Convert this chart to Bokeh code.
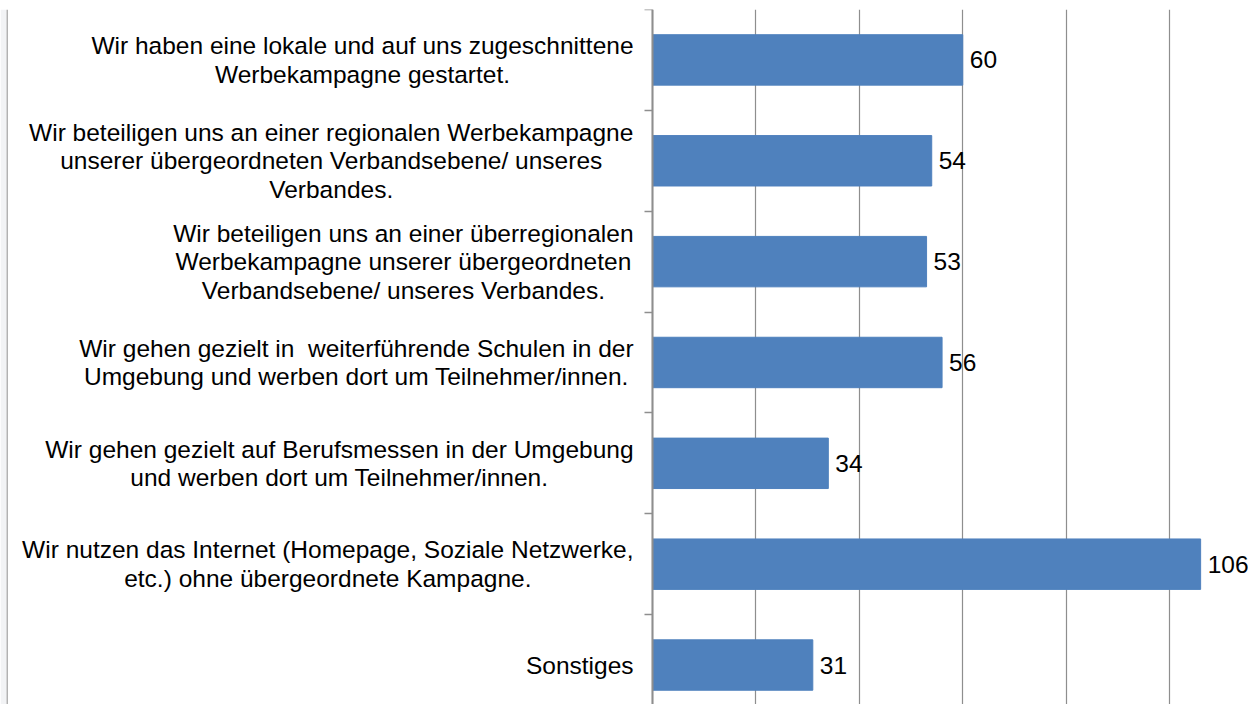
from bokeh.plotting import figure
from bokeh.models import Range1d, FixedTicker, Grid, ColumnDataSource, BoxAnnotation
from bokeh.embed import file_html
from bokeh.resources import INLINE
from bokeh.core.properties import value

categories = [
    "Wir haben eine lokale und auf uns zugeschnittene\nWerbekampagne gestartet.",
    "Wir beteiligen uns an einer regionalen Werbekampagne\nunserer übergeordneten Verbandsebene/ unseres\nVerbandes.",
    "Wir beteiligen uns an einer überregionalen\nWerbekampagne unserer übergeordneten\nVerbandsebene/ unseres Verbandes.",
    "Wir gehen gezielt in \u00a0weiterführende Schulen in der\nUmgebung und werben dort um Teilnehmer/innen.",
    "Wir gehen gezielt auf Berufsmessen in der Umgebung\nund werben dort um Teilnehmer/innen.",
    "Wir nutzen das Internet (Homepage, Soziale Netzwerke,\netc.) ohne übergeordnete Kampagne.",
    "Sonstiges",
]
values = [60, 54, 53, 56, 34, 106, 31]
x_ticks = [0, 20, 40, 60, 80, 100, 120]

# Helvetica / Liberation Sans advance widths (per 1000 em), used to centre label lines
_W = {" ": 278, "\u00a0": 278, "(": 333, ")": 333, ",": 278, ".": 278, "/": 278, "-": 333,
      "A": 667, "B": 667, "C": 722, "D": 722, "E": 667, "F": 611, "G": 778, "H": 722,
      "I": 278, "J": 500, "K": 667, "L": 556, "M": 833, "N": 722, "O": 778, "P": 667,
      "Q": 778, "R": 722, "S": 667, "T": 611, "U": 722, "V": 667, "W": 944, "X": 667,
      "Y": 667, "Z": 611,
      "a": 556, "b": 556, "c": 500, "d": 556, "e": 556, "f": 278, "g": 556, "h": 556,
      "i": 222, "j": 222, "k": 500, "l": 222, "m": 833, "n": 556, "o": 556, "p": 556,
      "q": 556, "r": 333, "s": 500, "t": 278, "u": 556, "v": 500, "w": 722, "x": 500,
      "y": 500, "z": 500, "ü": 556, "ä": 556, "ö": 556}

FONT = "Liberation Sans"
FONT_PX = 24.5
LINE_H = 1.06
LABEL_GAP = 19  # px between label block and axis


def text_width(s):
    return sum(_W.get(ch, 556) for ch in s) / 1000.0 * FONT_PX


n = len(categories)
centers = [i + 0.5 for i in range(n)]
bounds = list(range(n + 1))
offsets = [-(LABEL_GAP + max(text_width(l) for l in lab.split("\n")) / 2.0) for lab in categories]

source = ColumnDataSource(data=dict(y=centers, v=values, t=[str(v) for v in values],
                                    lab=categories, zero=[0] * n, off=offsets))

PX_PER_UNIT = 5.171
PX_PER_CAT = 100.85
AXIS_X = 652
TOP = 9
W, H = 1248, 704

p = figure(width=W, height=H, output_backend="svg", toolbar_location=None,
           x_range=Range1d(-AXIS_X / PX_PER_UNIT, (W - AXIS_X) / PX_PER_UNIT),
           y_range=Range1d((H - TOP) / PX_PER_CAT, 0),
           x_axis_location=None,
           min_border_left=0, min_border_right=0, min_border_top=TOP, min_border_bottom=0)
p.outline_line_color = None
p.background_fill_color = "white"
p.border_fill_color = "white"
p.ygrid.visible = False
p.xgrid.visible = False

p.add_layout(Grid(dimension=0, ticker=FixedTicker(ticks=x_ticks),
                  grid_line_color="#8e8e8e", grid_line_width=1.2))

ax = p.yaxis[0]
ax.fixed_location = 0
ax.ticker = FixedTicker(ticks=centers, minor_ticks=bounds)
ax.major_label_overrides = {c: "" for c in centers}
ax.major_label_text_font_size = "0px"
ax.major_tick_out = 0
ax.major_tick_in = 0
ax.minor_tick_out = 8
ax.minor_tick_in = 0
ax.minor_tick_line_color = "#8e8e8e"
ax.minor_tick_line_width = 1.5
ax.axis_line_color = "#8e8e8e"
ax.axis_line_width = 2

# faint left page edge of the reference
p.add_layout(BoxAnnotation(left=-AXIS_X / PX_PER_UNIT, right=-(AXIS_X - 6) / PX_PER_UNIT,
                           fill_color="#f2f3f5", fill_alpha=1, line_color=None, level="underlay"))
p.add_layout(BoxAnnotation(left=-(AXIS_X - 6) / PX_PER_UNIT, right=-(AXIS_X - 7.5) / PX_PER_UNIT,
                           fill_color="#b2b2b2", fill_alpha=1, line_color=None, level="underlay"))

p.text(x="zero", y="y", text="lab", source=source, x_offset="off",
       text_align="center", text_baseline="middle", text_line_height=LINE_H,
       text_font=value(FONT), text_font_size=f"{FONT_PX}px", text_color="black")

p.hbar(y="y", right="v", left=0, height=0.5, source=source,
       fill_color="#4F81BD", line_color="#4F81BD")

p.text(x="v", y="y", text="t", source=source, x_offset=7,
       text_baseline="middle", text_align="left",
       text_font=value(FONT), text_font_size=f"{FONT_PX}px", text_color="black")

open("out.html", "w").write(file_html(p, INLINE))
